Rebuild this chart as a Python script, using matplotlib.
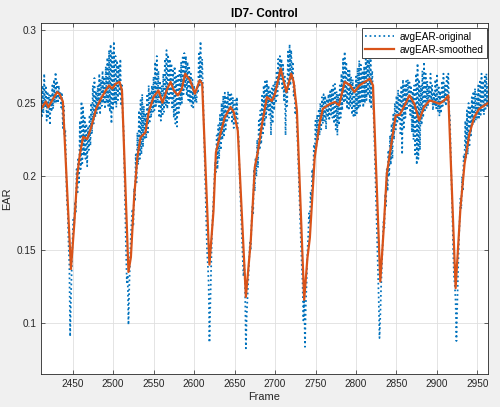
import numpy as np
import matplotlib
matplotlib.use('Agg')
import matplotlib.pyplot as plt

plt.rcParams['font.family'] = ['Liberation Sans', 'DejaVu Sans']

title = 'ID7- Control'
x_label = 'Frame'
y_label = 'EAR'
series_names = ['avgEAR-original', 'avgEAR-smoothed']

first_frame = 2411
last_frame = 2963

# avgEAR-original, one value per frame (2411 .. 2963)
ear_original = [
    0.252, 0.240, 0.262, 0.243, 0.270, 0.247, 0.262, 0.238, 0.258, 0.241,
    0.256, 0.235, 0.255, 0.244, 0.262, 0.246, 0.266, 0.250, 0.271, 0.251,
    0.264, 0.250, 0.262, 0.252, 0.258, 0.247, 0.256, 0.233, 0.248, 0.228,
    0.232, 0.205, 0.183, 0.176, 0.155, 0.140, 0.091, 0.118, 0.138, 0.158,
    0.172, 0.168, 0.183, 0.176, 0.205, 0.188, 0.213, 0.196, 0.238, 0.205,
    0.251, 0.209, 0.247, 0.214, 0.240, 0.212, 0.236, 0.207, 0.233, 0.218,
    0.242, 0.221, 0.250, 0.229, 0.262, 0.236, 0.267, 0.240, 0.258, 0.243,
    0.262, 0.245, 0.270, 0.242, 0.266, 0.248, 0.272, 0.250, 0.268, 0.246,
    0.275, 0.250, 0.281, 0.248, 0.286, 0.244, 0.290, 0.236, 0.284, 0.245,
    0.292, 0.250, 0.282, 0.247, 0.279, 0.252, 0.276, 0.255, 0.280, 0.248,
    0.262, 0.240, 0.232, 0.205, 0.180, 0.150, 0.128, 0.133, 0.099, 0.125,
    0.145, 0.160, 0.170, 0.178, 0.166, 0.192, 0.183, 0.215, 0.196, 0.230,
    0.208, 0.245, 0.212, 0.252, 0.215, 0.256, 0.220, 0.248, 0.225, 0.243,
    0.226, 0.255, 0.230, 0.262, 0.236, 0.258, 0.240, 0.262, 0.244, 0.268,
    0.245, 0.278, 0.248, 0.282, 0.250, 0.272, 0.240, 0.265, 0.238, 0.262,
    0.241, 0.270, 0.244, 0.280, 0.248, 0.286, 0.246, 0.283, 0.250, 0.280,
    0.252, 0.277, 0.247, 0.272, 0.240, 0.275, 0.236, 0.268, 0.234, 0.270,
    0.242, 0.272, 0.248, 0.278, 0.250, 0.281, 0.256, 0.284, 0.260, 0.282,
    0.255, 0.278, 0.252, 0.274, 0.250, 0.270, 0.248, 0.266, 0.247, 0.262,
    0.251, 0.256, 0.250, 0.262, 0.258, 0.285, 0.262, 0.292, 0.265, 0.280,
    0.258, 0.238, 0.215, 0.195, 0.170, 0.150, 0.140, 0.128, 0.087, 0.110,
    0.135, 0.160, 0.172, 0.185, 0.196, 0.210, 0.203, 0.228, 0.205, 0.235,
    0.212, 0.242, 0.218, 0.250, 0.225, 0.255, 0.228, 0.257, 0.232, 0.255,
    0.238, 0.258, 0.240, 0.257, 0.243, 0.256, 0.236, 0.254, 0.233, 0.250,
    0.252, 0.240, 0.254, 0.232, 0.226, 0.205, 0.190, 0.175, 0.158, 0.146,
    0.132, 0.140, 0.125, 0.083, 0.105, 0.118, 0.130, 0.142, 0.155, 0.150,
    0.168, 0.180, 0.175, 0.205, 0.190, 0.213, 0.200, 0.225, 0.206, 0.238,
    0.218, 0.245, 0.222, 0.255, 0.228, 0.262, 0.234, 0.266, 0.240, 0.265,
    0.245, 0.262, 0.242, 0.258, 0.228, 0.260, 0.236, 0.262, 0.245, 0.265,
    0.250, 0.272, 0.255, 0.280, 0.262, 0.282, 0.266, 0.280, 0.260, 0.276,
    0.252, 0.268, 0.228, 0.262, 0.248, 0.285, 0.258, 0.290, 0.262, 0.286,
    0.266, 0.278, 0.255, 0.262, 0.242, 0.248, 0.232, 0.222, 0.205, 0.190,
    0.172, 0.155, 0.140, 0.128, 0.102, 0.118, 0.084, 0.112, 0.128, 0.148,
    0.160, 0.175, 0.168, 0.190, 0.183, 0.205, 0.195, 0.222, 0.212, 0.238,
    0.220, 0.242, 0.224, 0.246, 0.228, 0.250, 0.232, 0.254, 0.236, 0.256,
    0.238, 0.255, 0.232, 0.253, 0.240, 0.256, 0.238, 0.258, 0.242, 0.260,
    0.240, 0.262, 0.236, 0.263, 0.232, 0.258, 0.228, 0.256, 0.235, 0.262,
    0.240, 0.270, 0.245, 0.280, 0.250, 0.285, 0.252, 0.278, 0.246, 0.272,
    0.245, 0.272, 0.248, 0.268, 0.242, 0.266, 0.240, 0.262, 0.241, 0.268,
    0.243, 0.274, 0.246, 0.279, 0.248, 0.276, 0.250, 0.272, 0.247, 0.275,
    0.250, 0.280, 0.252, 0.286, 0.255, 0.284, 0.250, 0.282, 0.246, 0.272,
    0.255, 0.238, 0.220, 0.200, 0.180, 0.160, 0.140, 0.118, 0.090, 0.105,
    0.125, 0.140, 0.155, 0.170, 0.165, 0.188, 0.180, 0.205, 0.190, 0.218,
    0.200, 0.228, 0.208, 0.236, 0.212, 0.242, 0.225, 0.250, 0.232, 0.255,
    0.236, 0.259, 0.238, 0.255, 0.228, 0.262, 0.215, 0.266, 0.232, 0.262,
    0.240, 0.265, 0.245, 0.266, 0.248, 0.264, 0.242, 0.262, 0.230, 0.258,
    0.225, 0.262, 0.215, 0.270, 0.208, 0.277, 0.212, 0.266, 0.218, 0.262,
    0.235, 0.272, 0.240, 0.278, 0.245, 0.270, 0.246, 0.265, 0.248, 0.262,
    0.250, 0.270, 0.252, 0.262, 0.245, 0.258, 0.248, 0.266, 0.246, 0.270,
    0.244, 0.262, 0.241, 0.258, 0.243, 0.265, 0.248, 0.270, 0.250, 0.262,
    0.248, 0.268, 0.252, 0.270, 0.245, 0.240, 0.215, 0.195, 0.175, 0.150,
    0.132, 0.126, 0.115, 0.088, 0.112, 0.135, 0.155, 0.170, 0.185, 0.178,
    0.200, 0.190, 0.215, 0.211, 0.238, 0.212, 0.245, 0.215, 0.250, 0.220,
    0.248, 0.228, 0.254, 0.235, 0.258, 0.236, 0.260, 0.238, 0.256, 0.240,
    0.262, 0.240, 0.266, 0.242, 0.270, 0.245, 0.265, 0.242, 0.268, 0.246,
    0.270, 0.248, 0.262,
]

# avgEAR-smoothed, read at its corner points
smooth_frames = [
    2411, 2417, 2420, 2425, 2431, 2434, 2438, 2448, 2452, 2456, 2459, 2463,
    2468, 2473, 2479, 2485, 2491, 2495, 2499, 2503, 2508, 2511, 2519, 2522,
    2526, 2530, 2534, 2540, 2544, 2550, 2556, 2561, 2567, 2571, 2575, 2580,
    2585, 2589, 2595, 2601, 2607, 2610, 2619, 2624, 2627, 2632, 2638, 2645,
    2649, 2654, 2664, 2670, 2675, 2679, 2684, 2690, 2696, 2700, 2707, 2714,
    2720, 2723, 2727, 2736, 2740, 2743, 2749, 2755, 2759, 2768, 2774, 2779,
    2786, 2793, 2798, 2804, 2811, 2817, 2821, 2830, 2834, 2838, 2843, 2849,
    2854, 2860, 2866, 2872, 2878, 2884, 2891, 2897, 2903, 2909, 2914, 2923,
    2929, 2934, 2940, 2946, 2952, 2963,
]
smooth_values = [
    0.246, 0.251, 0.247, 0.252, 0.2575, 0.256, 0.251, 0.137, 0.167, 0.202, 0.215, 0.227,
    0.2255, 0.2335, 0.246, 0.253, 0.2586, 0.262, 0.2598, 0.263, 0.2644, 0.2586, 0.135, 0.145,
    0.1856, 0.213, 0.2267, 0.230, 0.2438, 0.2541, 0.2586, 0.2502, 0.2598, 0.2644, 0.2586, 0.2552,
    0.2598, 0.270, 0.2655, 0.2564, 0.2655, 0.2632, 0.140, 0.1765, 0.2164, 0.2278, 0.2404, 0.2473,
    0.2438, 0.2312, 0.118, 0.1559, 0.2062, 0.2175, 0.2358, 0.2541, 0.2514, 0.2564, 0.2735, 0.2575,
    0.270, 0.2644, 0.245, 0.116, 0.1445, 0.1582, 0.213, 0.2358, 0.2461, 0.2495, 0.2507, 0.2484,
    0.2644, 0.262, 0.2575, 0.262, 0.2644, 0.2666, 0.262, 0.1285, 0.1627, 0.2016, 0.2199, 0.2415,
    0.242, 0.2484, 0.2552, 0.2495, 0.2381, 0.2473, 0.2518, 0.2507, 0.2495, 0.2518, 0.2552, 0.124,
    0.1788, 0.2084, 0.229, 0.2404, 0.246, 0.250,
]

x_ticks = [2450, 2500, 2550, 2600, 2650, 2700, 2750, 2800, 2850, 2900, 2950]
y_ticks = [0.1, 0.15, 0.2, 0.25, 0.3]
y_tick_labels = ['0.1', '0.15', '0.2', '0.25', '0.3']

frames = np.arange(first_frame, last_frame + 1)

ink = '#262626'
fig = plt.figure(figsize=(5.0, 4.07), dpi=100, facecolor='#f0f0f0')
ax = fig.add_axes([0.082, 0.081, 0.894, 0.8625])
ax.set_facecolor('white')

ax.plot(frames, ear_original, linestyle=':', color='#0072BD', linewidth=1.25,
        label=series_names[0])
ax.plot(smooth_frames, smooth_values, linestyle='-', color='#D95319', linewidth=1.6,
        label=series_names[1])

ax.set_xlim(2411, 2963)
ax.set_ylim(0.0655, 0.3045)
ax.set_xticks(x_ticks)
ax.set_yticks(y_ticks)
ax.set_yticklabels(y_tick_labels)

ax.grid(True, color='#dfdfdf', linewidth=0.6)
ax.set_axisbelow(True)
ax.tick_params(direction='in', top=True, right=True, length=3, width=0.5,
               labelsize=7.2, colors=ink, pad=3.5)
for sp in ax.spines.values():
    sp.set_color(ink)
    sp.set_linewidth(0.6)

ax.set_title(title, fontsize=8.4, fontweight='bold', color='black', pad=4)
ax.set_xlabel(x_label, fontsize=7.9, color=ink, labelpad=2)
ax.set_ylabel(y_label, fontsize=7.9, color=ink, labelpad=3)

leg = ax.legend(loc='upper right', bbox_to_anchor=(0.973, 0.931),
                bbox_transform=fig.transFigure, fontsize=7.2, fancybox=False,
                framealpha=1, edgecolor=ink, borderaxespad=0, borderpad=0.35,
                labelspacing=0.3, handlelength=2.9, handletextpad=0.5)
leg.get_frame().set_linewidth(0.6)

fig.savefig('out.png', dpi=100, facecolor=fig.get_facecolor())
